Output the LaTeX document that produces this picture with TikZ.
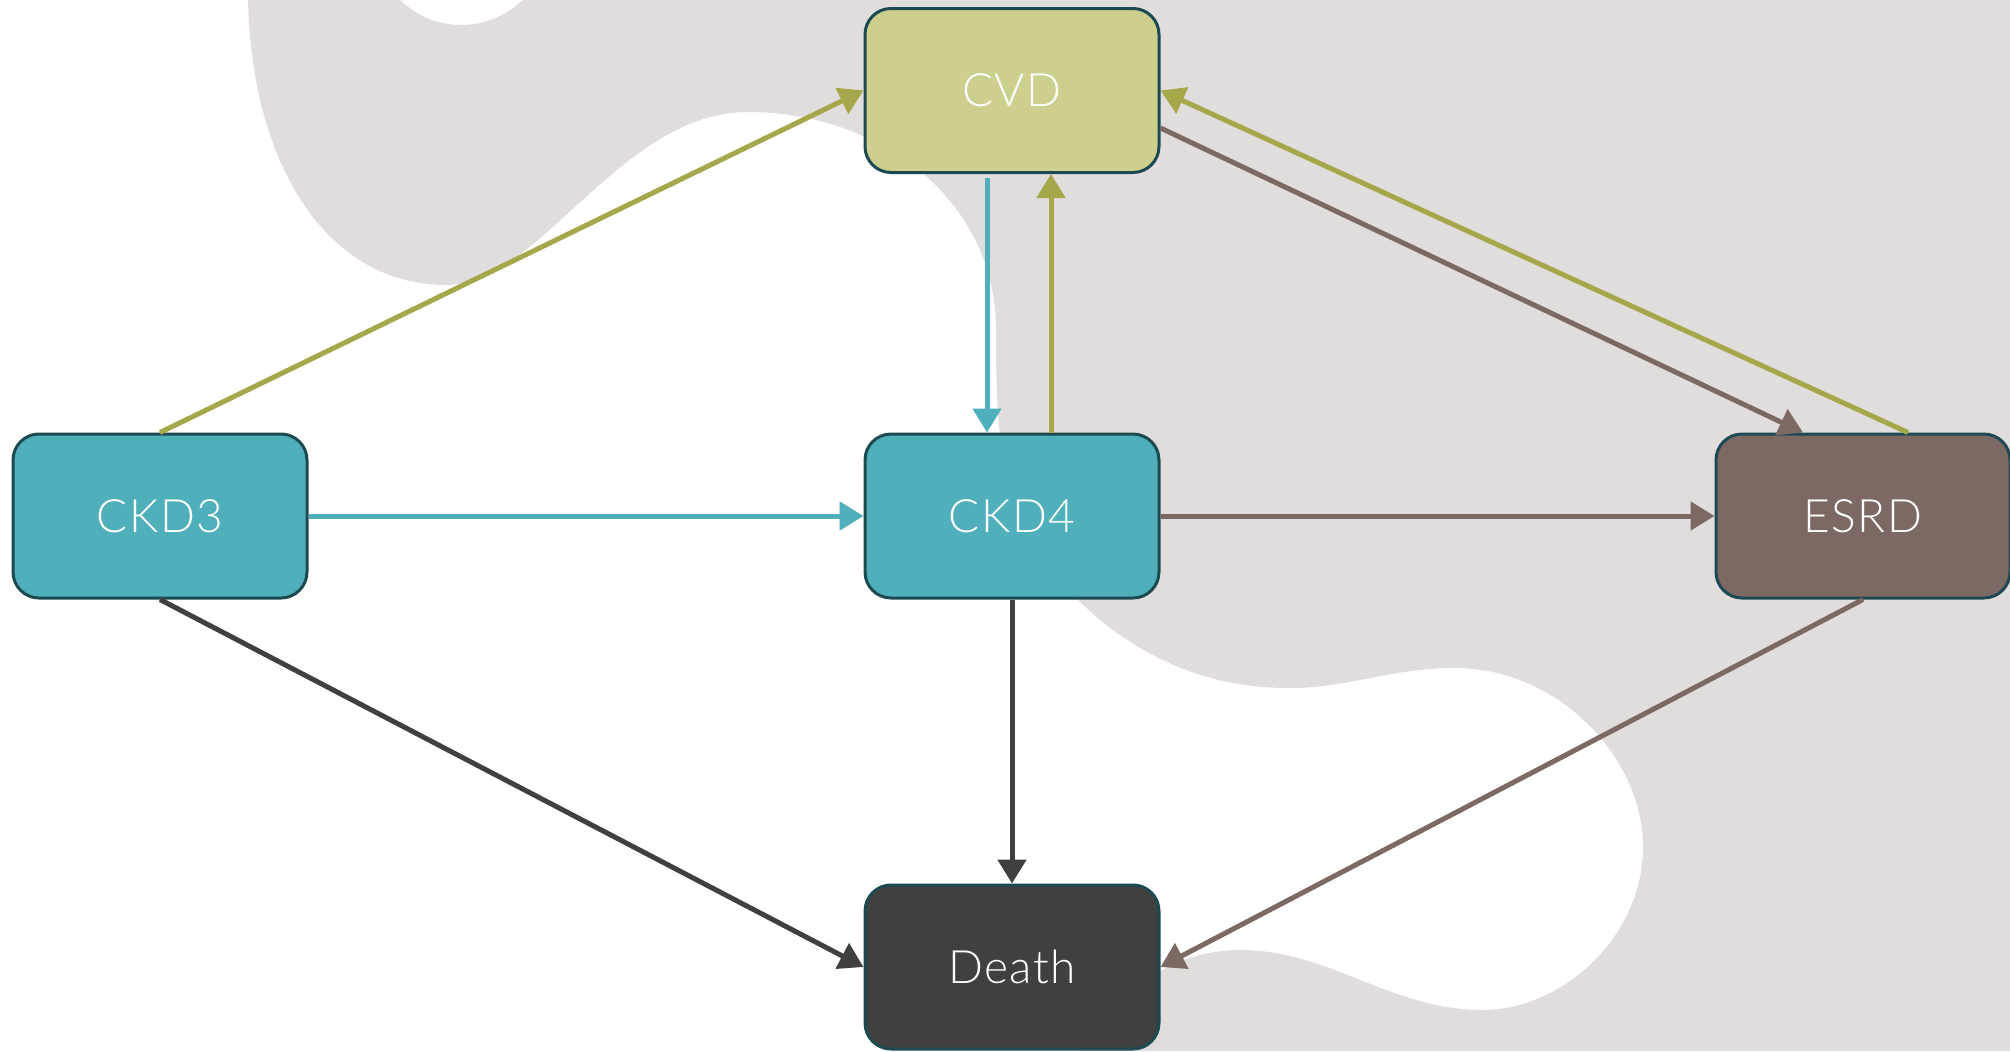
\documentclass[tikz,border=0pt]{standalone}
\usepackage{fontspec}
\setmainfont{Lato}[UprightFont={* Light}, LetterSpace=3]
\usetikzlibrary{arrows.meta}

\definecolor{blobgray}{HTML}{E2DDDD}
\definecolor{olive}{HTML}{A4A84A}
\definecolor{tealc}{HTML}{4FAFBA}
\definecolor{brownc}{HTML}{7D6963}
\definecolor{darkc}{HTML}{404040}
\definecolor{cvdfill}{HTML}{CCCF8E}
\definecolor{edgec}{HTML}{1D4A52}

\tikzset{
  state/.style={rectangle, rounded corners=13pt, draw=edgec, line width=1.5pt,
    minimum width=147pt, minimum height=82pt, text=white, inner sep=0pt,
    font=\fontsize{23pt}{28pt}\selectfont},
  link/.style={line width=2.5pt, -{Triangle[length=12pt,width=14pt]}},
}

\begin{document}
\begin{tikzpicture}[x=0.5pt,y=-0.5pt]
\useasboundingbox (0,0) rectangle (2010,1051);
\fill[white] (0,0) rectangle (2010,1051);

% soft background shape
\fill[blobgray]
  (248,0) .. controls (252,170) and (330,285) .. (446,285)
          .. controls (540,285) and (620,112) .. (748,112)
          .. controls (880,112) and (996,200) .. (996,330)
          .. controls (996,450) and (1000,520) .. (1078,600)
          .. controls (1140,660) and (1210,688) .. (1289,688)
          .. controls (1350,688) and (1390,668) .. (1455,668)
          .. controls (1560,668) and (1645,760) .. (1643,850)
          .. controls (1641,940) and (1560,1010) .. (1483,1010)
          .. controls (1390,1010) and (1330,950) .. (1240,950)
          .. controls (1200,950) and (1170,965) .. (1159,972)
          -- (1080,1051) -- (2010,1051) -- (2010,0) -- (523,0)
          .. controls (506,16) and (484,25) .. (461,25)
          .. controls (438,25) and (417,16) .. (400,0) -- cycle;

% states
\node[state, fill=cvdfill] (cvd)   at (1012,90.5) {CVD};
\node[state, fill=tealc]   (ckd3)  at (160,516)   {CKD3};
\node[state, fill=tealc]   (ckd4)  at (1012,516)  {CKD4};
\node[state, fill=brownc]  (esrd)  at (1863,516)  {ESRD};
\node[state, fill=darkc]   (death) at (1012,967)  {Death};

% transitions
\draw[link, olive]  (ckd3.north) -- (cvd.west);
\draw[link, tealc]  ([xshift=-12.5pt,yshift=-2pt]cvd.south) -- ([xshift=-12.5pt]ckd4.north);
\draw[link, olive]  ([xshift=19.5pt]ckd4.north) -- ([xshift=19.5pt]cvd.south);
\draw[link, brownc] ([yshift=-18.75pt]cvd.east) -- ([xshift=-30pt]esrd.north);
\draw[link, olive]  ([xshift=22.5pt]esrd.north) -- (cvd.east);
\draw[link, tealc]  (ckd3.east) -- (ckd4.west);
\draw[link, brownc] (ckd4.east) -- (esrd.west);
\draw[link, darkc]  (ckd3.south) -- (death.west);
\draw[link, darkc]  (ckd4.south) -- (death.north);
\draw[link, brownc] (esrd.south) -- (death.east);
\end{tikzpicture}
\end{document}
